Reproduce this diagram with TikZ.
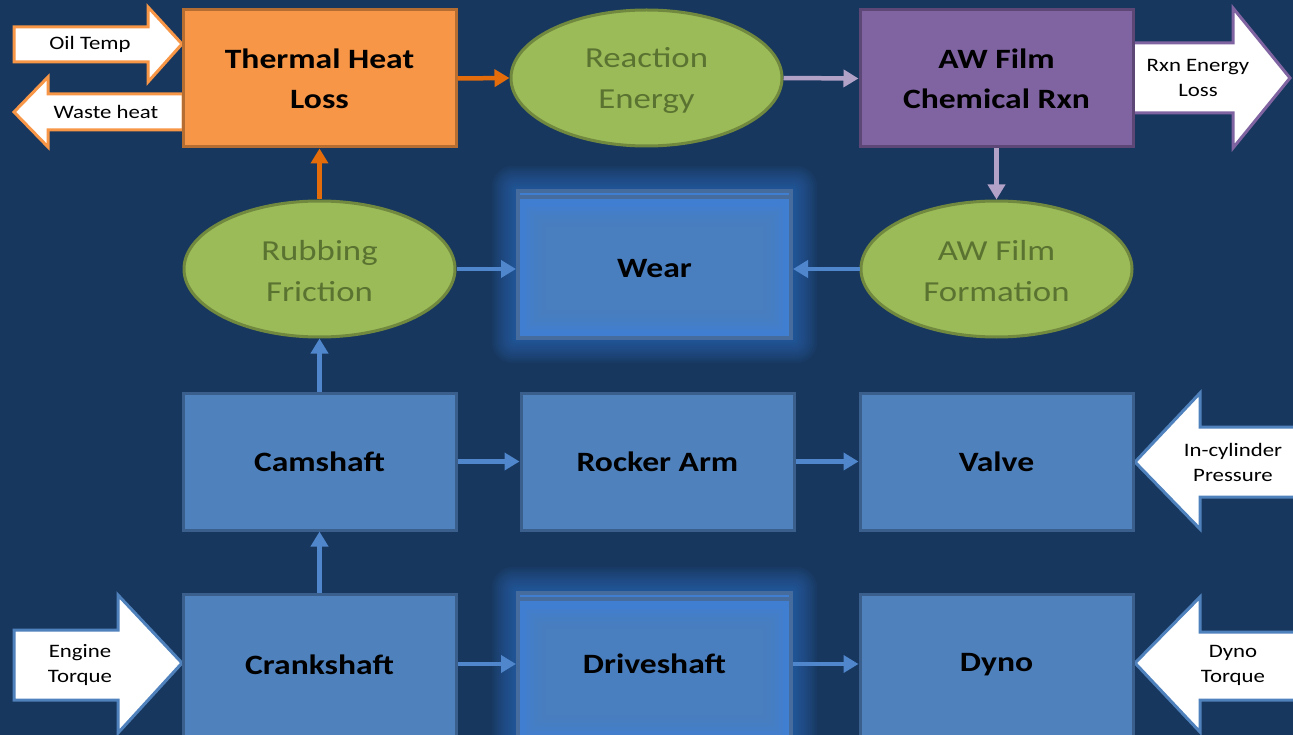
\documentclass[tikz,border=0pt]{standalone}
\usepackage{fontspec}
\setmainfont{Carlito}[FakeStretch=1.2]
\usetikzlibrary{shapes.geometric,arrows.meta}
\definecolor{bg}{HTML}{17375E}
\definecolor{bfill}{HTML}{4F81BD}
\definecolor{bline}{HTML}{3A5F8C}
\definecolor{blink}{HTML}{4F86CC}
\definecolor{ofill}{HTML}{F79646}
\definecolor{oline}{HTML}{B66D31}
\definecolor{olink}{HTML}{E46C0A}
\definecolor{pfill}{HTML}{8064A2}
\definecolor{pline}{HTML}{5C4776}
\definecolor{plink}{HTML}{B3A2C7}
\definecolor{gfill}{HTML}{9BBB59}
\definecolor{gline}{HTML}{71893F}
\definecolor{gtext}{HTML}{5B7331}
\definecolor{glow}{HTML}{2F72C8}
\definecolor{wfill}{HTML}{3F7ED0}
\definecolor{wline}{HTML}{466C9E}
\tikzset{
  box/.style={rectangle, draw=bline, fill=bfill, line width=3pt, minimum width=273pt,
    minimum height=137pt, inner sep=0pt, align=center, text=black,
    font=\fontsize{28}{40}\selectfont\bfseries},
  oval/.style={ellipse, draw=gline, fill=gfill, line width=3pt, minimum width=271pt,
    minimum height=136pt, inner sep=0pt, align=center, text=gtext,
    font=\fontsize{29}{41}\selectfont},
  glowbox/.style={box, draw=wline, fill=wfill, line width=4pt},
  lbl/.style={font=\fontsize{28}{40}\selectfont\bfseries, text=black, inner sep=0pt},
  link/.style={line width=4.5pt, -{Triangle[length=15pt,width=17pt]}},
  bigarrow/.style={fill=white, line width=3pt, line join=miter},
  albl/.style={align=center, text=black, inner sep=0pt, font=\fontsize{19}{25}\selectfont},
}
\begin{document}
\begin{tikzpicture}[x=1pt,y=-1pt]
\fill[bg] (0,0) rectangle (1293,735);
\useasboundingbox (0,0) rectangle (1293,735);

% glows behind Wear and Driveshaft
\foreach \i in {1,...,14}{
  \fill[glow, opacity=0.06, rounded corners=1.5*\i pt]
    (517-1.8*\i,191-1.8*\i) rectangle (792+1.8*\i,338+1.8*\i);
  \fill[glow, opacity=0.06, rounded corners=1.5*\i pt]
    (517-1.8*\i,592-1.8*\i) rectangle (792+1.8*\i,760);
}

% block arrows
\draw[bigarrow, draw=ofill] (14,27) -- (148,27) -- (148,7) -- (182,44) -- (148,82) -- (148,62) -- (14,62) -- cycle;
\node[albl] (oil) at (90,44) {Oil Temp};
\draw[bigarrow, draw=ofill] (183,94) -- (48,94) -- (48,77) -- (14,112) -- (48,147) -- (48,130) -- (183,130) -- cycle;
\node[albl] (waste) at (106,112) {Waste heat};
\draw[bigarrow, draw=pfill] (1133,43) -- (1233,43) -- (1233,8) -- (1290,78) -- (1233,148) -- (1233,113) -- (1133,113) -- cycle;
\node[albl] (rxnloss) at (1198,78) {Rxn Energy\\Loss};
\draw[bigarrow, draw=bfill] (1300,427) -- (1200,427) -- (1200,393) -- (1135,462) -- (1200,529) -- (1200,497) -- (1300,497) -- cycle;
\node[albl] (cyl) at (1233,462) {In-cylinder\\Pressure};
\draw[bigarrow, draw=bfill] (14,630) -- (118,630) -- (118,595) -- (182,663) -- (118,733) -- (118,700) -- (14,700) -- cycle;
\node[albl] (eng) at (80,665) {Engine\\Torque};
\draw[bigarrow, draw=bfill] (1300,632) -- (1200,632) -- (1200,597) -- (1135,663) -- (1200,732) -- (1200,700) -- (1300,700) -- cycle;
\node[albl] (dynot) at (1233,665) {Dyno\\Torque};

% top row
\node[box, fill=ofill, draw=oline] (thermal) at (319.5,78.5) {Thermal Heat\\Loss};
\node[oval] (reaction) at (646.5,78) {};
\node[oval, draw=none, fill=none] (reactionlbl) at (646.5,80) {Reaction\\Energy};
\node[box, fill=pfill, draw=pline] (awchem) at (996.5,78.5) {AW Film\\Chemical Rxn};

% second row
\node[oval] (rubbing) at (319.5,269) {};
\node[oval, draw=none, fill=none] (rubbinglbl) at (319.5,271) {Rubbing\\Friction};
\node[glowbox, minimum height=147pt] (wear) at (654.5,264.5) {};
\draw[wline, line width=4pt] ([yshift=-8pt]wear.north west) -- ([yshift=-8pt]wear.north east);
\foreach \k in {1,...,6}{
  \fill[bfill, opacity=0.22] ([shift={(6pt+4pt*\k,6pt+4pt*\k)}]wear.south west) rectangle ([shift={(-6pt-4pt*\k,-14pt-4pt*\k)}]wear.north east);
}
\node[lbl] (wearlbl) at (654.5,269) {Wear};
\node[oval] (awform) at (996.5,269) {};
\node[oval, draw=none, fill=none] (awformlbl) at (996.5,271) {AW Film\\Formation};

% third row
\node[box] (cam) at (319.5,461.5) {Camshaft};
\node[box] (rocker) at (657.5,461.5) {Rocker Arm};
\node[box] (valve) at (996.5,461.5) {Valve};

% bottom row
\node[box, minimum height=142pt] (crank) at (319.5,665) {Crankshaft};
\node[glowbox, minimum height=150pt] (drive) at (654.5,668) {};
\draw[wline, line width=4pt] ([yshift=-8pt]drive.north west) -- ([yshift=-8pt]drive.north east);
\foreach \k in {1,...,6}{
  \fill[bfill, opacity=0.22] ([shift={(6pt+4pt*\k,6pt+4pt*\k)}]drive.south west) rectangle ([shift={(-6pt-4pt*\k,-14pt-4pt*\k)}]drive.north east);
}
\node[lbl] (drivelbl) at (654.5,664) {Driveshaft};
\node[box, minimum height=142pt] (dyno) at (996.5,665) {Dyno};

% connectors
\draw[link, olink] (thermal.east) -- (reaction.west);
\draw[link, plink] (reaction.east) -- (awchem.west);
\draw[link, plink] (awchem.south) -- (awform.north);
\draw[link, olink] (rubbing.north) -- (thermal.south);
\draw[link, blink] (rubbing.east) -- (wear.west |- rubbing.east);
\draw[link, blink] (awform.west) -- (wear.east |- awform.west);
\draw[link, blink] (cam.north) -- (rubbing.south);
\draw[link, blink] (cam.east) -- (rocker.west);
\draw[link, blink] (rocker.east) -- (valve.west);
\draw[link, blink] (crank.north) -- (cam.south);
\draw[link, blink] (crank.east |- drivelbl) -- (drive.west |- drivelbl);
\draw[link, blink] (drive.east |- drivelbl) -- (dyno.west |- drivelbl);
\end{tikzpicture}
\end{document}
